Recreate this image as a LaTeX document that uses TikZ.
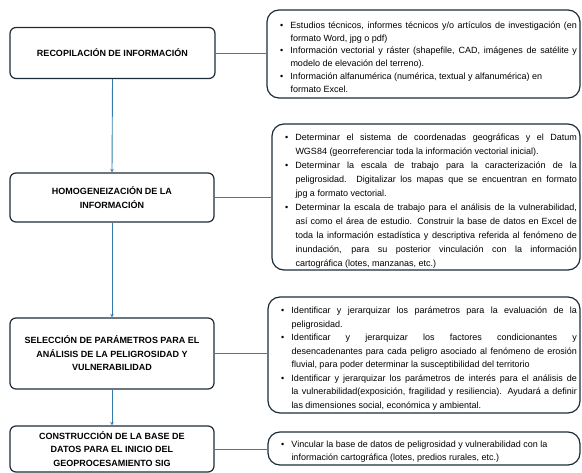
\documentclass[tikz,border=0pt]{standalone}
\usepackage{fontspec}
\setmainfont{Liberation Sans}
\usetikzlibrary{arrows.meta}
\definecolor{boxline}{HTML}{1C2C3A}
\definecolor{conn}{HTML}{337DAE}
\newcommand\itm[1]{\par\noindent\hangindent=10.5pt\hangafter=1\makebox[10.5pt][l]{\textbullet}#1}
\tolerance=10000 \hbadness=10000 \hfuzz=3pt
\begin{document}
\begin{tikzpicture}[x=1pt,y=-1pt,
  lbox/.style={draw=boxline,line width=1.2pt,rounded corners=6pt,align=center,
    font=\bfseries\fontsize{9}{13.5}\selectfont,inner sep=0pt,minimum width=#1},
  rbox/.style={draw=boxline,line width=1.2pt,rounded corners=12pt,inner xsep=3pt,inner ysep=0pt,
    text width=#1,align=justify},
  link/.style={draw=conn,line width=0.9pt},
  arr/.style={link,-{Stealth[length=3.5pt,width=3.5pt]}}]
\useasboundingbox (0,0) rectangle (582,473);
% left boxes
\node[lbox=205pt,minimum height=51pt] (b1) at (112.5,53) {RECOPILACIÓN DE INFORMACIÓN};
\node[lbox=204pt,minimum height=49pt] (b2) at (112,197.5) {HOMOGENEIZACIÓN DE LA\\INFORMACIÓN};
\node[lbox=204pt,minimum height=71pt] (b3) at (112,353.5) {SELECCIÓN DE PARÁMETROS PARA EL\\ANÁLISIS DE LA PELIGROSIDAD Y\\VULNERABILIDAD};
\node[lbox=204pt,minimum height=46pt] (b4) at (112,449) {CONSTRUCCIÓN DE LA BASE DE\\DATOS PARA EL INICIO DEL\\GEOPROCESAMIENTO SIG};
% right boxes
\node[rbox=307pt,minimum height=88pt,font=\fontsize{9}{12.8}\selectfont] (r1) at (423.5,54) {\leftskip=10pt
\itm{Estudios técnicos, informes técnicos y/o artículos de investigación (en\linebreak formato Word, jpg o pdf)}
\itm{Información vectorial y ráster (shapefile, CAD, imágenes de satélite y\linebreak modelo de elevación del terreno).}
\itm{Información alfanumérica (numérica, textual y alfanumérica) en\newline formato Excel.}\par};
\node[rbox=302pt,minimum height=146pt,font=\fontsize{9}{14}\selectfont] (r2) at (426,197) {\leftskip=10pt
\itm{Determinar el sistema de coordenadas geográficas y el Datum\linebreak WGS84 (georreferenciar toda la información vectorial inicial).}
\itm{Determinar la escala de trabajo para la caracterización de la\linebreak peligrosidad. Digitalizar los mapas que se encuentran en formato\linebreak jpg a formato vectorial.}
\itm{Determinar la escala de trabajo para el análisis de la vulnerabilidad,\linebreak así como el área de estudio. Construir la base de datos en Excel de\linebreak toda la información estadística y descriptiva referida al fenómeno de\linebreak inundación, para su posterior vinculación con la información\linebreak cartográfica (lotes, manzanas, etc.)}\par};
\node[rbox=306pt,minimum height=116pt,font=\fontsize{9}{13.5}\selectfont] (r3) at (424,355) {\leftskip=10pt
\itm{Identificar y jerarquizar los parámetros para la evaluación de la\linebreak peligrosidad.}
\itm{Identificar y jerarquizar los factores condicionantes y\linebreak desencadenantes para cada peligro asociado al fenómeno de erosión\linebreak fluvial, para poder determinar la susceptibilidad del territorio}
\itm{Identificar y jerarquizar los parámetros de interés para el análisis de\linebreak la vulnerabilidad(exposición, fragilidad y resiliencia). Ayudará a definir\linebreak las dimensiones social, económica y ambiental.}\par};
\node[rbox=306pt,minimum height=33pt,font=\fontsize{9}{13}\selectfont] (r4) at (424,448.5) {\leftskip=10pt
\itm{Vincular la base de datos de peligrosidad y vulnerabilidad con la\newline información cartográfica (lotes, predios rurales, etc.)}\par};
% connectors
\draw[arr] (b1.south) -- (b2.north);
\draw[arr] (b2.south) -- (b3.north);
\draw[arr] (b3.south) -- (b4.north);
\draw[link] (b1.east) -- (b1.east -| r1.west);
\draw[link] (b2.east) -- (b2.east -| r2.west);
\draw[link] (b3.east) -- (b3.east -| r3.west);
\draw[link] (b4.east) -- (b4.east -| r4.west);
\end{tikzpicture}
\end{document}
